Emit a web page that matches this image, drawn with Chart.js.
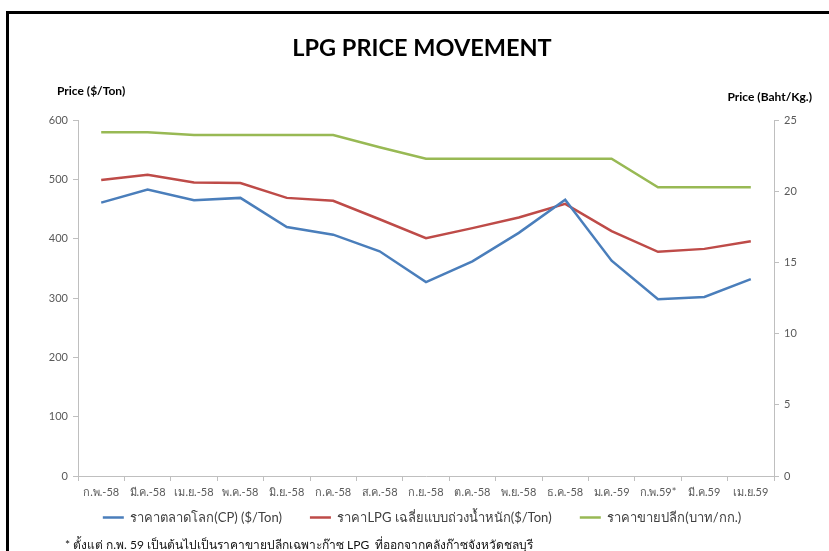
<!DOCTYPE html>
<html>
<head>
<meta charset="utf-8">
<script src="https://cdn.jsdelivr.net/npm/chart.js@4"></script>
<style>
  html, body { margin: 0; padding: 0; background: #fff; }
  #wrap { width: 829px; height: 551px; }
</style>
</head>
<body>
<div id="wrap"><canvas id="myChart" width="829" height="551"></canvas></div>
<script>
const months = ['ก.พ.-58', 'มี.ค.-58', 'เม.ย.-58', 'พ.ค.-58', 'มิ.ย.-58', 'ก.ค.-58', 'ส.ค.-58', 'ก.ย.-58',
  'ต.ค.-58', 'พ.ย.-58', 'ธ.ค.-58', 'ม.ค.-59', 'ก.พ.59*', 'มี.ค.59', 'เม.ย.59'];
// $/Ton, left axis
const cpPrice = [461, 483, 465, 469, 420, 407, 379, 327, 362, 410, 466, 363, 298, 302, 332];
const lpgAvgPrice = [499, 508, 495, 494, 469, 464, 433, 401, 418, 436, 459, 413, 378, 383, 396];
// Baht/Kg, right axis
const retailPrice = [24.16, 24.16, 23.96, 23.96, 23.96, 23.96, 23.1, 22.29, 22.29, 22.29, 22.29, 22.29, 20.29, 20.29, 20.29];
const leftTicks = [0, 100, 200, 300, 400, 500, 600];
const rightTicks = [0, 5, 10, 15, 20, 25];

const seriesNames = ['ราคาตลาดโลก(CP) ($/Ton)', 'ราคาLPG เฉลี่ยแบบถ่วงน้ำหนัก($/Ton)', 'ราคาขายปลีก(บาท/กก.)'];
const titleText = 'LPG PRICE MOVEMENT';
const leftTitle = 'Price ($/Ton)';
const rightTitle = 'Price (Baht/Kg.)';
const footNote = '* ตั้งแต่ ก.พ. 59 เป็นต้นไปเป็นราคาขายปลีกเฉพาะก๊าซ LPG  ที่ออกจากคลังก๊าซจังหวัดชลบุรี';

const FONT = 'Lato, "Noto Sans", "Open Sans", sans-serif';
const axisGray = '#bfbfbf';
const tickText = '#595959';

const frameAndTitles = {
  id: 'frameAndTitles',
  afterLayout(chart) {
    // pull the legend up closer to the axis labels (keeps wide item spacing)
    if (chart.legend) {
      chart.legend.top -= 23;
      chart.legend.bottom -= 23;
    }
  },
  beforeDraw(chart) {
    const ctx = chart.ctx;
    ctx.save();
    ctx.fillStyle = '#fff';
    ctx.fillRect(0, 0, chart.width, chart.height);
    ctx.strokeStyle = '#000';
    ctx.lineWidth = 3;
    ctx.strokeRect(7.5, 12.5, chart.width + 20, chart.height + 20);
    ctx.restore();
  },
  afterDraw(chart) {
    const ctx = chart.ctx;
    const area = chart.chartArea;
    ctx.save();
    ctx.fillStyle = '#000';
    ctx.font = 'bold 12px ' + FONT;
    ctx.textBaseline = 'middle';
    ctx.textAlign = 'left';
    ctx.fillText(leftTitle, area.left - 21, area.top - 29);
    ctx.textAlign = 'right';
    ctx.fillText(rightTitle, area.right + 38, area.top - 23);
    // footnote under the legend
    ctx.fillStyle = '#111';
    ctx.font = '12px ' + FONT;
    ctx.textAlign = 'left';
    ctx.fillText(footNote, area.left - 13, area.bottom + 69);
    ctx.restore();
  }
};

const ctx = document.getElementById('myChart').getContext('2d');
new Chart(ctx, {
  type: 'line',
  data: {
    labels: months,
    datasets: [
      { label: seriesNames[0], data: cpPrice, yAxisID: 'y', borderColor: '#4a7ebb', backgroundColor: '#4a7ebb', borderWidth: 2.5 },
      { label: seriesNames[1], data: lpgAvgPrice, yAxisID: 'y', borderColor: '#be4b48', backgroundColor: '#be4b48', borderWidth: 2.5 },
      { label: seriesNames[2], data: retailPrice, yAxisID: 'y1', borderColor: '#98b954', backgroundColor: '#98b954', borderWidth: 2.5 }
    ]
  },
  options: {
    responsive: false,
    animation: false,
    events: [],
    elements: { point: { radius: 0 }, line: { tension: 0 } },
    layout: { padding: { left: 15, right: 0, top: 12, bottom: -6 } },
    scales: {
      x: {
        offset: true,
        grid: { offset: true, drawOnChartArea: false, drawTicks: true, tickLength: 5, color: axisGray },
        border: { color: axisGray },
        ticks: { autoSkip: false, maxRotation: 0, padding: 5, color: tickText, font: { family: FONT, size: 11 } },
        afterFit: s => { s.height = 30; }
      },
      y: {
        position: 'left',
        min: 0, max: 600,
        afterBuildTicks: s => { s.ticks = leftTicks.map(v => ({ value: v })); },
        grid: { drawOnChartArea: false, tickLength: 5, color: axisGray },
        border: { color: axisGray },
        ticks: { padding: 5, color: tickText, font: { family: FONT, size: 11 } },
        afterFit: s => { s.width = 63; }
      },
      y1: {
        position: 'right',
        min: 0, max: 25,
        afterBuildTicks: s => { s.ticks = rightTicks.map(v => ({ value: v })); },
        grid: { drawOnChartArea: false, tickLength: 5, color: axisGray },
        border: { color: axisGray },
        ticks: { padding: 5, color: tickText, font: { family: FONT, size: 11 } },
        afterFit: s => { s.width = 55; }
      }
    },
    plugins: {
      tooltip: { enabled: false },
      title: {
        display: true,
        text: titleText,
        color: '#000',
        font: { family: FONT, size: 23.5, weight: 'bold' },
        padding: { top: 22, bottom: 58 }
      },
      legend: {
        position: 'bottom',
        labels: {
          usePointStyle: true,
          pointStyle: 'line',
          pointStyleWidth: 21,
          padding: 28,
          color: '#404040',
          font: { family: FONT, size: 13 }
        }
      }
    }
  },
  plugins: [frameAndTitles]
});
</script>
</body>
</html>
